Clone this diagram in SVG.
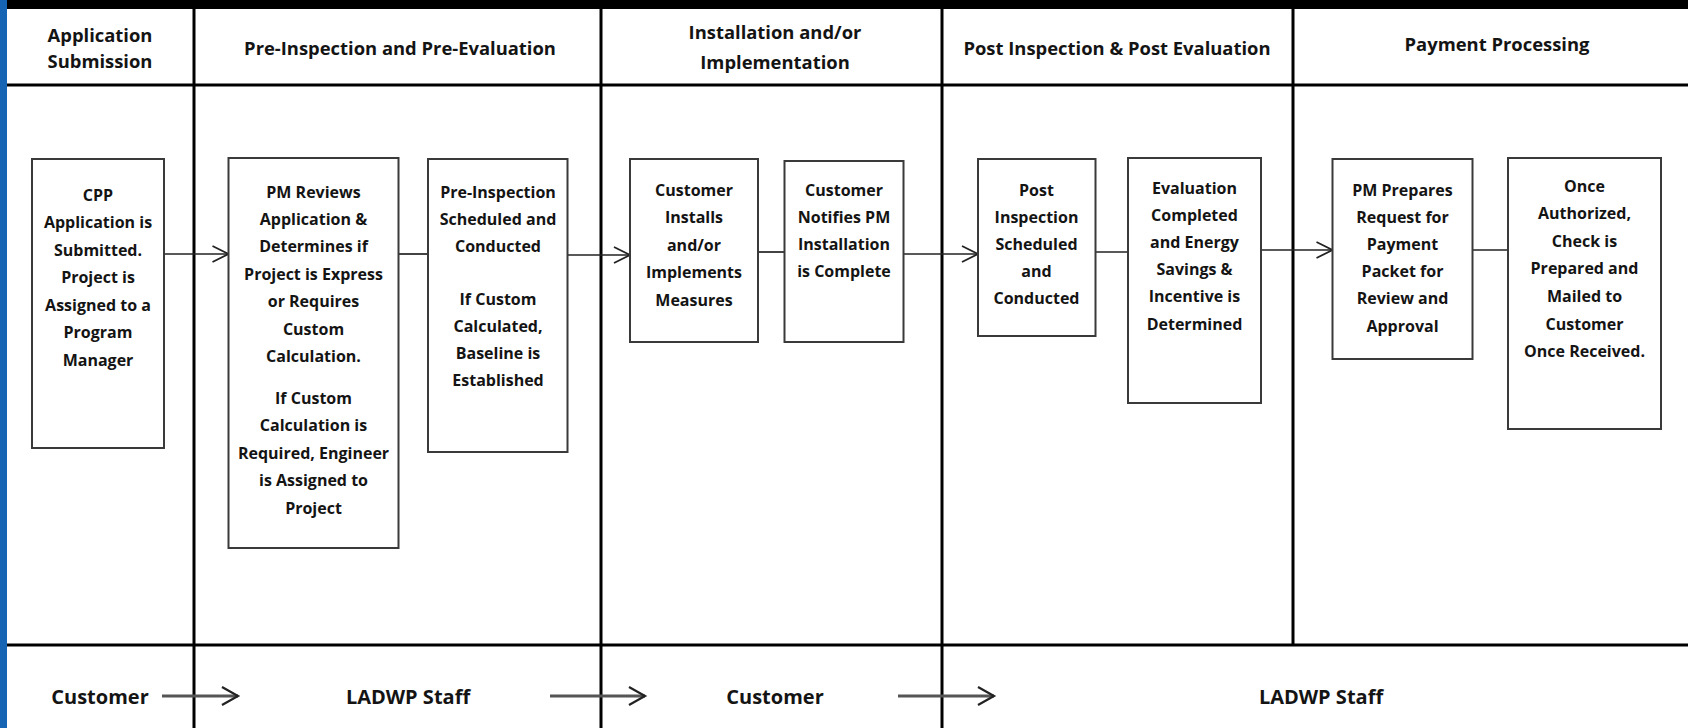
<svg xmlns="http://www.w3.org/2000/svg" width="1688" height="728" viewBox="0 0 1688 728">
<defs>
<style>
.t{font-family:"Open Sans","Liberation Sans",sans-serif;font-weight:700;fill:#141414;text-anchor:middle}
.h{font-size:18.4px}
.b{font-size:16px}
.f{font-size:20px}
.node rect{fill:#fff;stroke:#3a3a3a;stroke-width:2}
.div{stroke:#000;stroke-width:3;fill:none}
.conn{stroke:#222;stroke-width:1.7;fill:none}
.flow{stroke:#555;stroke-width:3;fill:none}
</style>
<marker id="chev" markerUnits="userSpaceOnUse" markerWidth="22" markerHeight="22" viewBox="0 0 22 22" refX="18" refY="10" orient="auto">
<path d="M2,2 L18,10 L2,18" fill="none" stroke="#222" stroke-width="1.8"/>
</marker>
<marker id="chev2" markerUnits="userSpaceOnUse" markerWidth="22" markerHeight="24" viewBox="0 0 22 24" refX="18" refY="11" orient="auto">
<path d="M2,2 L18,11 L2,20" fill="none" stroke="#222" stroke-width="2.2"/>
</marker>
</defs>
<rect x="0" y="0" width="1688" height="728" fill="#fff"/>
<rect x="0" y="0" width="7" height="728" fill="#1565b4"/>
<rect x="7" y="0" width="1681" height="9" fill="#000"/>

<g id="grid">
<path class="div" d="M7,85 H1688 M7,645 H1688 M194,9 V728 M601,9 V728 M942,9 V728 M1293,9 V645"/>
</g>

<g id="headers">
<text class="t h"><tspan x="100" y="41.5">Application</tspan><tspan x="100" y="67.5">Submission</tspan></text>
<text class="t h" x="400" y="55">Pre-Inspection and Pre-Evaluation</text>
<text class="t h"><tspan x="775" y="38.5">Installation and/or</tspan><tspan x="775" y="68.5">Implementation</tspan></text>
<text class="t h" x="1117" y="55">Post Inspection &amp; Post Evaluation</text>
<text class="t h" x="1497" y="51">Payment Processing</text>
</g>

<g id="connectors">
<path class="conn" d="M164,254 H228.5" marker-end="url(#chev)"/>
<path class="conn" d="M398.5,254 H428"/>
<path class="conn" d="M567.5,255 H630" marker-end="url(#chev)"/>
<path class="conn" d="M758,252 H784.5"/>
<path class="conn" d="M903.5,254 H978" marker-end="url(#chev)"/>
<path class="conn" d="M1095.5,252 H1128"/>
<path class="conn" d="M1261,250 H1332.5" marker-end="url(#chev)"/>
<path class="conn" d="M1472.5,250 H1508"/>
<path class="flow" d="M162,696 H238" marker-end="url(#chev2)"/>
<path class="flow" d="M550,696 H645" marker-end="url(#chev2)"/>
<path class="flow" d="M898,696 H994" marker-end="url(#chev2)"/>
</g>

<g id="n-cpp" class="node">
<rect x="32" y="159" width="132" height="289"/>
<text class="t b"><tspan x="98" y="200.5">CPP</tspan><tspan x="98" dy="27.5">Application is</tspan><tspan x="98" dy="27.5">Submitted.</tspan><tspan x="98" dy="27.5">Project is</tspan><tspan x="98" dy="27.5">Assigned to a</tspan><tspan x="98" dy="27.5">Program</tspan><tspan x="98" dy="27.5">Manager</tspan></text>
</g>

<g id="n-pmreview" class="node">
<rect x="228.5" y="158" width="170" height="390"/>
<text class="t b"><tspan x="313.5" y="197.5">PM Reviews</tspan><tspan x="313.5" dy="27.4">Application &amp;</tspan><tspan x="313.5" dy="27.4">Determines if</tspan><tspan x="313.5" dy="27.4">Project is Express</tspan><tspan x="313.5" dy="27.4">or Requires</tspan><tspan x="313.5" dy="27.4">Custom</tspan><tspan x="313.5" dy="27.4">Calculation.</tspan><tspan x="313.5" dy="42">If Custom</tspan><tspan x="313.5" dy="27.4">Calculation is</tspan><tspan x="313.5" dy="27.4">Required, Engineer</tspan><tspan x="313.5" dy="27.4">is Assigned to</tspan><tspan x="313.5" dy="27.4">Project</tspan></text>
</g>

<g id="n-preinsp" class="node">
<rect x="428" y="159" width="139.5" height="293"/>
<text class="t b"><tspan x="498" y="197.5">Pre-Inspection</tspan><tspan x="498" dy="27">Scheduled and</tspan><tspan x="498" dy="27">Conducted</tspan><tspan x="498" dy="53">If Custom</tspan><tspan x="498" dy="27">Calculated,</tspan><tspan x="498" dy="27">Baseline is</tspan><tspan x="498" dy="27">Established</tspan></text>
</g>

<g id="n-installs" class="node">
<rect x="630" y="159" width="128" height="183"/>
<text class="t b"><tspan x="694" y="195.5">Customer</tspan><tspan x="694" dy="27.5">Installs</tspan><tspan x="694" dy="27.5">and/or</tspan><tspan x="694" dy="27.5">Implements</tspan><tspan x="694" dy="27.5">Measures</tspan></text>
</g>

<g id="n-notifies" class="node">
<rect x="784.5" y="161" width="119" height="181"/>
<text class="t b"><tspan x="844" y="195.5">Customer</tspan><tspan x="844" dy="27">Notifies PM</tspan><tspan x="844" dy="27">Installation</tspan><tspan x="844" dy="27">is Complete</tspan></text>
</g>

<g id="n-postinsp" class="node">
<rect x="978" y="159" width="117.5" height="177"/>
<text class="t b"><tspan x="1036.5" y="195.5">Post</tspan><tspan x="1036.5" dy="27">Inspection</tspan><tspan x="1036.5" dy="27">Scheduled</tspan><tspan x="1036.5" dy="27">and</tspan><tspan x="1036.5" dy="27">Conducted</tspan></text>
</g>

<g id="n-evaluation" class="node">
<rect x="1128" y="158" width="133" height="245"/>
<text class="t b"><tspan x="1194.5" y="193.5">Evaluation</tspan><tspan x="1194.5" dy="27.2">Completed</tspan><tspan x="1194.5" dy="27.2">and Energy</tspan><tspan x="1194.5" dy="27.2">Savings &amp;</tspan><tspan x="1194.5" dy="27.2">Incentive is</tspan><tspan x="1194.5" dy="27.2">Determined</tspan></text>
</g>

<g id="n-pmprepares" class="node">
<rect x="1332.5" y="159" width="140" height="200"/>
<text class="t b"><tspan x="1402.5" y="195.5">PM Prepares</tspan><tspan x="1402.5" dy="27.2">Request for</tspan><tspan x="1402.5" dy="27.2">Payment</tspan><tspan x="1402.5" dy="27.2">Packet for</tspan><tspan x="1402.5" dy="27.2">Review and</tspan><tspan x="1402.5" dy="27.2">Approval</tspan></text>
</g>

<g id="n-check" class="node">
<rect x="1508" y="158" width="153" height="271"/>
<text class="t b"><tspan x="1584.5" y="191.5">Once</tspan><tspan x="1584.5" dy="27.6">Authorized,</tspan><tspan x="1584.5" dy="27.6">Check is</tspan><tspan x="1584.5" dy="27.6">Prepared and</tspan><tspan x="1584.5" dy="27.6">Mailed to</tspan><tspan x="1584.5" dy="27.6">Customer</tspan><tspan x="1584.5" dy="27.6">Once Received.</tspan></text>
</g>

<g id="roles">
<text class="t f" x="100" y="704">Customer</text>
<text class="t f" x="408" y="704">LADWP Staff</text>
<text class="t f" x="775" y="704">Customer</text>
<text class="t f" x="1321" y="704">LADWP Staff</text>
</g>
</svg>
